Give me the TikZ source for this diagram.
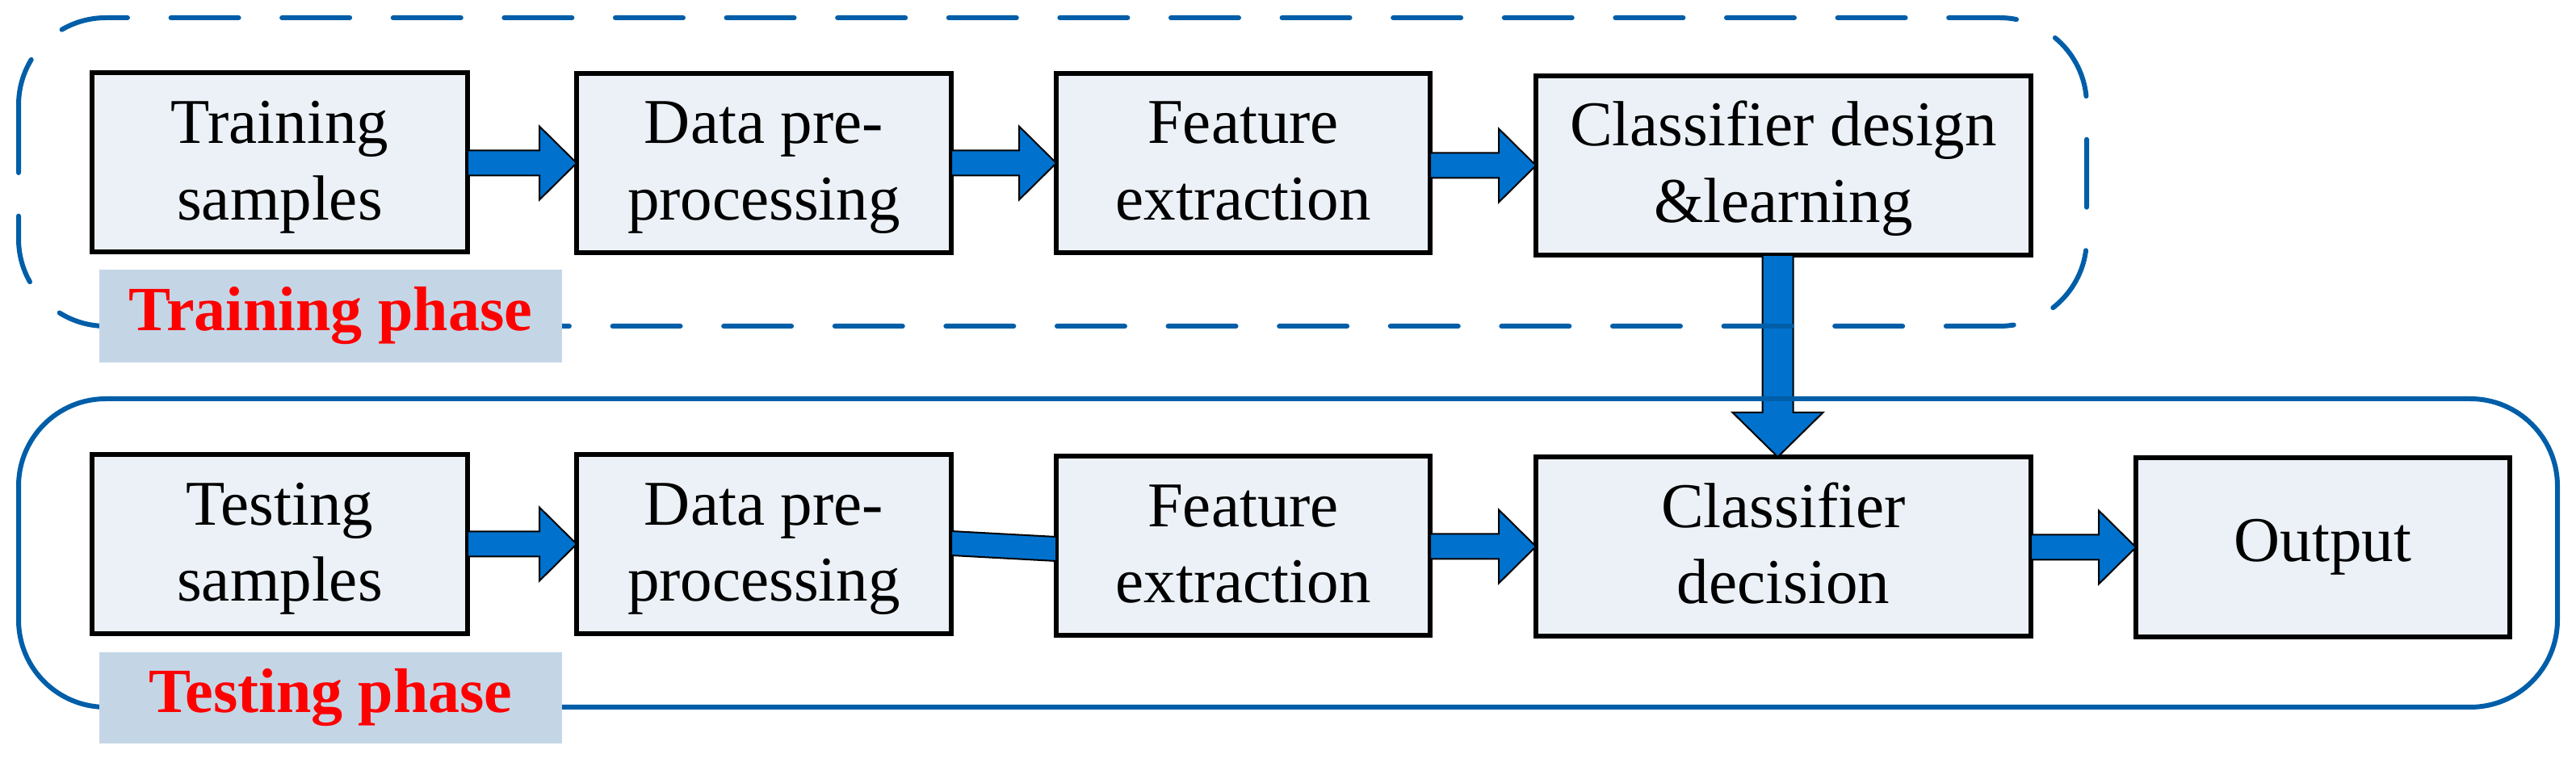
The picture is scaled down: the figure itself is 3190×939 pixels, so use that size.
\documentclass[tikz,border=0pt]{standalone}
\usepackage{fontspec}
\setmainfont{Liberation Serif}
\usetikzlibrary{calc}
\definecolor{boxfill}{RGB}{235,241,246}
\definecolor{arrowblue}{RGB}{0,114,206}
\definecolor{frameblue}{RGB}{0,94,168}
\definecolor{labelfill}{RGB}{196,214,230}
\definecolor{labelred}{RGB}{255,0,0}
\newcommand{\fatright}[2]{%
  \draw[fatarrow] ($(#1.east |- #2.west)+(0,-15.5)$) -- ($(#2.west)+(-46,-15.5)$) -- ($(#2.west)+(-46,-45.5)$) -- (#2.west) -- ($(#2.west)+(-46,45.5)$) -- ($(#2.west)+(-46,15.5)$) -- ($(#1.east |- #2.west)+(0,15.5)$) -- cycle;}
\begin{document}
\begin{tikzpicture}[x=0.25pt,y=-0.25pt,
  stage/.style={draw=black, line width=1.5pt, fill=boxfill, minimum height=55.5pt, align=center, inner sep=0pt, outer sep=0pt, font=\fontsize{19.75pt}{23.75pt}\selectfont},
  twoline/.style={text height=37.5pt, text depth=2pt},
  phaselabel/.style={fill=labelfill, minimum width=143.25pt, inner sep=0pt, font=\fontsize{19.5pt}{23pt}\selectfont\bfseries, text=labelred},
  frame/.style={draw=frameblue, line width=1.5pt, rounded corners=27pt},
  fatarrow/.style={fill=arrowblue, draw=black, line width=0.5pt, line join=miter}]
\useasboundingbox (0,0) rectangle (3190,939);
% training row
\node[stage, twoline, minimum width=116.25pt] (tr1) at (346.5,201.5) {Training\\samples};
\node[stage, twoline, minimum width=116pt] (tr2) at (946,202) {Data pre-\\processing};
\node[stage, twoline, minimum width=115.75pt] (tr3) at (1539.5,202) {Feature\\extraction};
\node[stage, twoline, minimum width=153.25pt] (tr4) at (2208.5,205) {Classifier design\\\&learning};
% testing row
\node[stage, twoline, minimum width=116.25pt] (te1) at (346.5,674) {Testing\\samples};
\node[stage, twoline, minimum width=116pt] (te2) at (946,674) {Data pre-\\processing};
\node[stage, twoline, minimum width=115.75pt] (te3) at (1539.5,676) {Feature\\extraction};
\node[stage, twoline, minimum width=153.25pt] (te4) at (2208.5,677) {Classifier\\decision};
\node[stage, minimum width=115.75pt] (out) at (2876.5,678) {Output};
% arrows
\fatright{tr1}{tr2}
\fatright{tr2}{tr3}
\fatright{tr3}{tr4}
\fatright{te1}{te2}
\fatright{te3}{te4}
\fatright{te4}{out}
\draw[fatarrow] ($(te2.east)+(0,-16)$) -- ($(te3.west)+(0,-11)$) -- ($(te3.west)+(0,19)$) -- ($(te2.east)+(0,14)$) -- cycle;
\draw[fatarrow] ($(tr4.south)+(-7,0)+(-19,0)$) -- ($(te4.north)+(-7,0)+(-19,-55)$) -- ($(te4.north)+(-7,0)+(-56,-55)$) -- ($(te4.north)+(-7,0)$) -- ($(te4.north)+(-7,0)+(56,-55)$) -- ($(te4.north)+(-7,0)+(19,-55)$) -- ($(tr4.south)+(-7,0)+(19,0)$) -- cycle;
% phase frames
\draw[frame, dash pattern=on 21pt off 13.4pt, line cap=round] (23,22) rectangle (2584,404);
\draw[frame] (23,494) rectangle (3167,876);
% phase labels
\node[phaselabel, minimum height=28.75pt] (trlabel) at (409.5,391.5) {Training phase};
\node[phaselabel, minimum height=28.25pt] (telabel) at (409.5,864.5) {Testing phase};
\end{tikzpicture}
\end{document}
